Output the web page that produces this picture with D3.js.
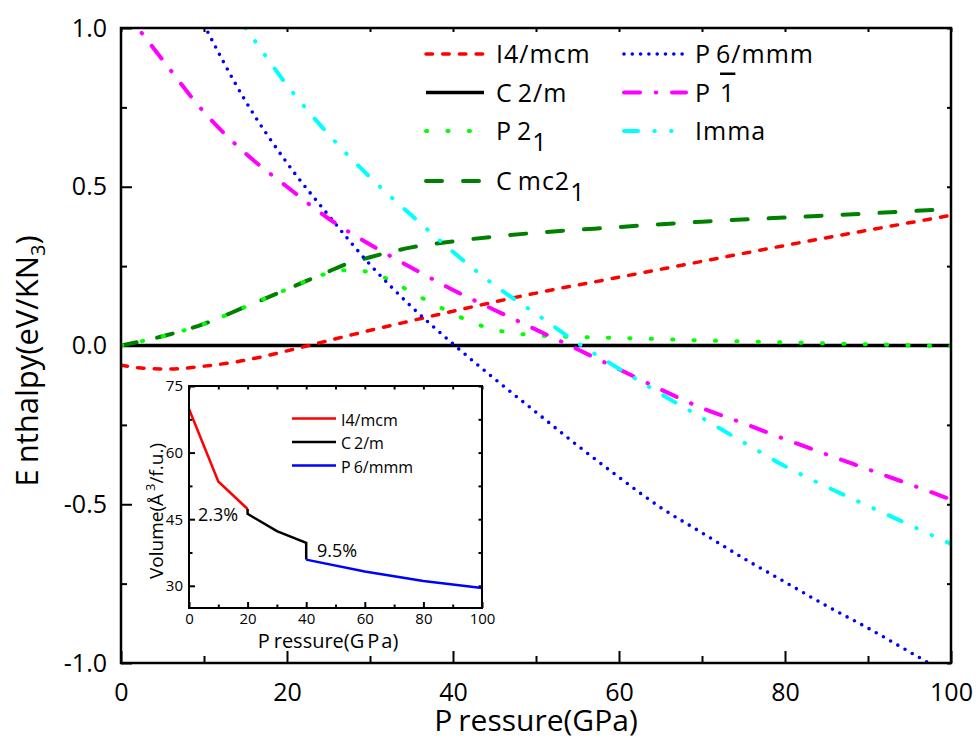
<!DOCTYPE html>
<html>
<head>
<meta charset="utf-8">
<script src="https://cdn.jsdelivr.net/npm/d3@7"></script>
<style>
  body { margin: 0; background: #fff; }
  svg { display: block; font-family: 'Open Sans', sans-serif; }
</style>
</head>
<body>
<div id="chart"></div>
<script>
// ── DATA ──────────────────────────────────────────────────────────────────
// Enthalpy relative to C2/m (eV/KN3) vs pressure (GPa)
const pC2m  = [0, 100];
const hC2m  = [0, 0];

const pI4   = [0, 3, 6, 10, 14, 20, 24, 28, 34, 40, 50, 60, 70, 80, 90, 100];
const hI4   = [-0.062, -0.072, -0.074, -0.065, -0.051, -0.017, 0.009, 0.035, 0.072, 0.108, 0.165, 0.215, 0.265, 0.315, 0.363, 0.41];

const pCmc  = [0, 5, 10, 15, 20, 25, 27, 30, 35, 40, 45, 50, 60, 70, 80, 90, 100];
const hCmc  = [0, 0.029, 0.068, 0.122, 0.177, 0.233, 0.255, 0.278, 0.309, 0.328, 0.343, 0.355, 0.373, 0.39, 0.403, 0.416, 0.43];

const pP21  = [0, 5, 10, 15, 20, 25, 27, 29, 31, 33, 35, 37, 39, 41, 43, 45, 47, 50, 55, 60, 70, 80, 90, 100];
const hP21  = [0, 0.029, 0.068, 0.122, 0.177, 0.228, 0.237, 0.235, 0.222, 0.198, 0.167, 0.14, 0.113, 0.088, 0.066, 0.05, 0.04, 0.032, 0.027, 0.024, 0.016, 0.01, 0.004, -0.002];

const pP6   = [10, 15, 20, 25, 30, 35, 40, 45, 50, 55, 60, 65, 70, 75, 80, 85, 90, 95, 100];
const hP6   = [1.01, 0.77, 0.575, 0.41, 0.255, 0.122, 0.005, -0.105, -0.21, -0.315, -0.415, -0.51, -0.59, -0.67, -0.745, -0.82, -0.89, -0.965, -1.04];

const pP1   = [0, 2, 5, 10, 15, 20, 25, 30, 35, 40, 45, 50, 55, 60, 65, 70, 75, 80, 85, 90, 95, 100];
const hP1   = [1.06, 1.0, 0.9, 0.735, 0.605, 0.5, 0.4, 0.318, 0.245, 0.175, 0.112, 0.05, -0.012, -0.075, -0.138, -0.197, -0.245, -0.295, -0.343, -0.39, -0.437, -0.485];

const pImma = [14, 15, 20, 25, 30, 35, 40, 45, 50, 55, 60, 65, 70, 75, 80, 85, 90, 95, 100];
const hImma = [1.035, 1.0, 0.82, 0.665, 0.53, 0.41, 0.295, 0.19, 0.1, 0.008, -0.073, -0.152, -0.228, -0.305, -0.38, -0.445, -0.505, -0.565, -0.625];

// Inset : volume (Å3/f.u.) vs pressure
const vpI4  = [0, 10, 20];
const vI4   = [69.8, 53.5, 47.3];
const vpC2m = [20, 20, 30, 40, 40];
const vC2m  = [47.3, 46.2, 42.3, 39.7, 35.9];
const vpP6  = [40, 60, 80, 100];
const vP6   = [35.9, 33.2, 31.1, 29.5];

// ticks
const xMajor = [0, 20, 40, 60, 80, 100];
const xMinor = [10, 30, 50, 70, 90];
const yMajor = [-1, -0.5, 0, 0.5, 1];
const yMinor = [-0.75, -0.25, 0.25, 0.75];
const ixMajor = [0, 20, 40, 60, 80, 100];
const iyMajor = [30, 45, 60, 75];
const iyMinor = [37.5, 52.5, 67.5];

const zip = (a, b) => a.map((v, i) => [v, b[i]]);

// ── SETUP ─────────────────────────────────────────────────────────────────
const W = 976, H = 740;
const m = { l: 121, r: 951, t: 28, b: 663 };
const svg = d3.select('#chart').append('svg').attr('width', W).attr('height', H);

const x = d3.scaleLinear().domain([0, 100]).range([m.l, m.r]);
const y = d3.scaleLinear().domain([-1, 1]).range([m.b, m.t]);

svg.append('defs').append('clipPath').attr('id', 'plot')
  .append('rect').attr('x', m.l).attr('y', m.t).attr('width', m.r - m.l).attr('height', m.b - m.t);

function styleAxis(g, size) {
  g.select('.domain').remove();
  g.attr('font-family', "'Open Sans', sans-serif").attr('font-size', size);
  g.selectAll('line').attr('stroke', '#000').attr('stroke-width', 2);
  g.selectAll('text').attr('fill', '#000');
}

// ── AXES ──────────────────────────────────────────────────────────────────
svg.append('g').attr('transform', `translate(0,${m.b})`)
  .call(d3.axisBottom(x).tickValues(xMajor).tickSize(-12).tickPadding(20).tickFormat(d3.format('d')))
  .call(g => styleAxis(g, 25));
svg.append('g').attr('transform', `translate(0,${m.b})`)
  .call(d3.axisBottom(x).tickValues(xMinor).tickSize(-7).tickFormat(''))
  .call(g => styleAxis(g, 25));
svg.append('g').attr('transform', `translate(${m.l},0)`)
  .call(d3.axisLeft(y).tickValues(yMajor).tickSize(-11).tickPadding(14).tickFormat(d => d.toFixed(1)))
  .call(g => styleAxis(g, 25));
svg.append('g').attr('transform', `translate(${m.l},0)`)
  .call(d3.axisLeft(y).tickValues(yMinor).tickSize(-6).tickFormat(''))
  .call(g => styleAxis(g, 25));
svg.append('g').attr('transform', `translate(0,${m.t})`)
  .call(d3.axisTop(x).tickValues(xMajor.concat(xMinor)).tickSize(-4).tickFormat(''))
  .call(g => styleAxis(g, 25));
svg.append('g').attr('transform', `translate(${m.r},0)`)
  .call(d3.axisRight(y).tickValues(yMajor.concat(yMinor)).tickSize(-4).tickFormat(''))
  .call(g => styleAxis(g, 25));

// ── CURVES ────────────────────────────────────────────────────────────────
const line = d3.line().x(d => x(d[0])).y(d => y(d[1])).curve(d3.curveMonotoneX);

const series = [
  { id: 'C2m',  p: pC2m,  h: hC2m,  color: '#000000', w: 3.5, dash: null },
  { id: 'I4',   p: pI4,   h: hI4,   color: '#ff0000', w: 3.5, dash: '6.5,10.2' },
  { id: 'Cmc',  p: pCmc,  h: hCmc,  color: '#008000', w: 4,   dash: '16,21' },
  { id: 'P21',  p: pP21,  h: hP21,  color: '#00ff00', w: 4,   dash: '1.2,20.2' },
  { id: 'P6',   p: pP6,   h: hP6,   color: '#0000ff', w: 3.6, dash: '0,8.3' },
  { id: 'P1',   p: pP1,   h: hP1,   color: '#ff00ff', w: 4,   dash: '16,15.75,0.5,15.75' },
  { id: 'Imma', p: pImma, h: hImma, color: '#00ffff', w: 4,   dash: '14,16.3,0.5,16.3,0.5,16.3' }
];
const byId = {};
series.forEach(s => { byId[s.id] = s; });

const curves = svg.append('g').attr('clip-path', 'url(#plot)');
series.forEach(s => {
  curves.append('path').datum(zip(s.p, s.h))
    .attr('d', line).attr('fill', 'none')
    .attr('stroke', s.color).attr('stroke-width', s.w)
    .attr('stroke-linecap', s.dash ? 'round' : 'butt')
    .attr('stroke-dasharray', s.dash);
});

// frame
svg.append('rect').attr('x', m.l).attr('y', m.t).attr('width', m.r - m.l).attr('height', m.b - m.t)
  .attr('fill', 'none').attr('stroke', '#000').attr('stroke-width', 2.5);

// ── LEGEND ────────────────────────────────────────────────────────────────
const cols = [{ x1: 426, x2: 484, tx: 496 }, { x1: 624, x2: 686, tx: 695 }];
const rowsY = [54, 92.5, 131, 181];
const legend = [
  { id: 'I4',   col: 0, row: 0, parts: [{ t: 'I4/mcm' }] },
  { id: 'C2m',  col: 0, row: 1, parts: [{ t: 'C' }, { t: '2/m', dx: 5 }] },
  { id: 'P21',  col: 0, row: 2, parts: [{ t: 'P' }, { t: '2', dx: 5 }, { t: '1', dy: 11 }] },
  { id: 'Cmc',  col: 0, row: 3, parts: [{ t: 'C' }, { t: 'mc2', dx: 5 }, { t: '1', dy: 11 }] },
  { id: 'P6',   col: 1, row: 0, parts: [{ t: 'P' }, { t: '6/mmm', dx: 5 }] },
  { id: 'P1',   col: 1, row: 1, parts: [{ t: 'P' }, { t: '1', dx: 9, over: true }] },
  { id: 'Imma', col: 1, row: 2, parts: [{ t: 'Imma' }] }
];

const lg = svg.append('g').attr('font-size', 25).attr('letter-spacing', 1);
legend.forEach(e => {
  const s = byId[e.id], c = cols[e.col], ly = rowsY[e.row];
  lg.append('line').attr('x1', c.x1).attr('x2', c.x2).attr('y1', ly).attr('y2', ly)
    .attr('stroke', s.color).attr('stroke-width', s.w)
    .attr('stroke-linecap', s.dash ? 'round' : 'butt')
    .attr('stroke-dasharray', s.dash);
  const t = lg.append('text').attr('x', c.tx).attr('y', ly + 9).attr('fill', '#000');
  e.parts.forEach(p => {
    const ts = t.append('tspan').text(p.t);
    if (p.dx) ts.attr('dx', p.dx);
    if (p.dy) ts.attr('dy', p.dy);
    if (p.over) ts.style('text-decoration', 'overline');
  });
});

// ── AXIS TITLES ───────────────────────────────────────────────────────────
const xt = svg.append('text').attr('x', 536).attr('y', 731).attr('text-anchor', 'middle')
  .attr('font-size', 30).attr('fill', '#000');
xt.append('tspan').text('P');
xt.append('tspan').attr('dx', 6).text('ressure(GPa)');

const yt = svg.append('text').attr('transform', 'translate(37.5,361) rotate(-90)')
  .attr('text-anchor', 'middle').attr('font-size', 31).attr('fill', '#000');
yt.append('tspan').text('E');
yt.append('tspan').attr('dx', 6).text('nthalpy(eV/KN');
yt.append('tspan').attr('dy', 7).attr('font-size', 20).text('3');
yt.append('tspan').attr('dy', -7).text(')');

// ── INSET ─────────────────────────────────────────────────────────────────
const im = { l: 189, r: 482, t: 386, b: 608 };
const ix = d3.scaleLinear().domain([0, 100]).range([im.l, im.r]);
const iy = d3.scaleLinear().domain([25, 75]).range([im.b, im.t]);
const inset = svg.append('g');

inset.append('rect').attr('x', im.l).attr('y', im.t).attr('width', im.r - im.l).attr('height', im.b - im.t)
  .attr('fill', '#fff');

inset.append('g').attr('transform', `translate(0,${im.b})`)
  .call(d3.axisBottom(ix).tickValues(ixMajor).tickSize(-6).tickPadding(5).tickFormat(d3.format('d')))
  .call(g => styleAxis(g, 15));
inset.append('g').attr('transform', `translate(0,${im.b})`)
  .call(d3.axisBottom(ix).tickValues(xMinor).tickSize(-3.5).tickFormat(''))
  .call(g => styleAxis(g, 15));
inset.append('g').attr('transform', `translate(${im.l},0)`)
  .call(d3.axisLeft(iy).tickValues(iyMajor).tickSize(-6).tickPadding(6).tickFormat(d3.format('d')))
  .call(g => styleAxis(g, 15));
inset.append('g').attr('transform', `translate(${im.l},0)`)
  .call(d3.axisLeft(iy).tickValues(iyMinor).tickSize(-3.5).tickFormat(''))
  .call(g => styleAxis(g, 15));
inset.append('g').attr('transform', `translate(0,${im.t})`)
  .call(d3.axisTop(ix).tickValues(ixMajor.concat(xMinor)).tickSize(-3.5).tickFormat(''))
  .call(g => styleAxis(g, 15));
inset.append('g').attr('transform', `translate(${im.r},0)`)
  .call(d3.axisRight(iy).tickValues(iyMajor.concat(iyMinor)).tickSize(-3.5).tickFormat(''))
  .call(g => styleAxis(g, 15));

const iline = d3.line().x(d => ix(d[0])).y(d => iy(d[1]));
const insetSeries = [
  { name: 'I4/mcm', p: vpI4,  v: vI4,  color: '#ff0000' },
  { name: 'C2/m',   p: vpC2m, v: vC2m, color: '#000000' },
  { name: 'P6/mmm', p: vpP6,  v: vP6,  color: '#0000ff' }
];
insetSeries.forEach((s, i) => {
  inset.append('path').datum(zip(s.p, s.v)).attr('d', iline)
    .attr('fill', 'none').attr('stroke', s.color).attr('stroke-width', 2.5);
  const ly = 418.5 + i * 23.5;
  inset.append('line').attr('x1', 292).attr('x2', 336).attr('y1', ly).attr('y2', ly)
    .attr('stroke', s.color).attr('stroke-width', 2.5);
  const t = inset.append('text').attr('x', 341).attr('y', ly + 7).attr('font-size', 16).attr('fill', '#000');
  if (s.name === 'I4/mcm') t.text(s.name);
  else { t.append('tspan').text(s.name[0]); t.append('tspan').attr('dx', 3).text(s.name.slice(1)); }
});

inset.append('rect').attr('x', im.l).attr('y', im.t).attr('width', im.r - im.l).attr('height', im.b - im.t)
  .attr('fill', 'none').attr('stroke', '#000').attr('stroke-width', 2);

inset.append('text').attr('x', 198).attr('y', 521).attr('font-size', 18).attr('fill', '#000').text('2.3%');
inset.append('text').attr('x', 317).attr('y', 557).attr('font-size', 18).attr('fill', '#000').text('9.5%');

const ixt = inset.append('text').attr('x', 328).attr('y', 648).attr('text-anchor', 'middle')
  .attr('font-size', 20).attr('fill', '#000');
ixt.append('tspan').text('P');
ixt.append('tspan').attr('dx', 4).text('ressure(G');
ixt.append('tspan').attr('dx', 3).text('P');
ixt.append('tspan').attr('dx', 2).text('a)');

const iyt = inset.append('text').attr('transform', 'translate(163,511) rotate(-90)')
  .attr('text-anchor', 'middle').attr('font-size', 19).attr('fill', '#000');
iyt.append('tspan').text('Volume(Å');
iyt.append('tspan').attr('dx', 3).attr('dy', -8).attr('font-size', 13).text('3');
iyt.append('tspan').attr('dy', 8).text('/f.u.)');
</script>
</body>
</html>
